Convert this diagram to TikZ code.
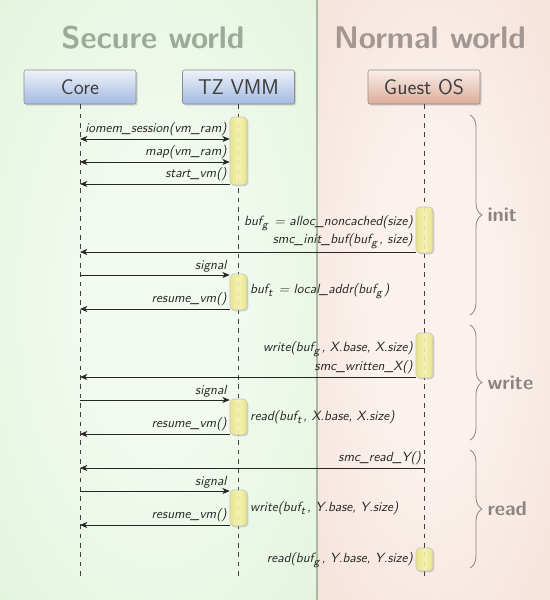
\documentclass[tikz,border=0pt]{standalone}
\usetikzlibrary{arrows.meta,shadows,fit,decorations.pathreplacing}

\definecolor{secout}{RGB}{219,241,211}
\definecolor{secin}{RGB}{242,250,239}
\definecolor{normout}{RGB}{242,217,206}
\definecolor{normin}{RGB}{251,242,238}
\definecolor{divline}{RGB}{168,186,162}
\definecolor{sectitle}{RGB}{156,170,151}
\definecolor{normtitle}{RGB}{162,151,146}
\definecolor{phasegray}{RGB}{140,132,128}
\definecolor{bluetop}{RGB}{238,242,249}
\definecolor{bluebot}{RGB}{163,186,226}
\definecolor{redtop}{RGB}{249,239,233}
\definecolor{redbot}{RGB}{221,172,152}
\definecolor{barfill}{RGB}{236,232,124}
\definecolor{barlight}{RGB}{250,248,178}

\pgfdeclareradialshading{secglow}{\pgfpoint{0bp}{0bp}}{color(0bp)=(secin); color(12bp)=(secin); color(50bp)=(secout)}
\pgfdeclareradialshading{normglow}{\pgfpoint{0bp}{0bp}}{color(0bp)=(normin); color(12bp)=(normin); color(50bp)=(normout)}

\newcommand{\sub}[1]{\raisebox{-0.45ex}{\fontsize{8.5}{9}\selectfont #1}\,}

\begin{document}
\begin{tikzpicture}[x=0.75pt, y=-0.75pt,
  >={Stealth[length=5.5pt, width=4.5pt, inset=1.6pt]},
  actor/.style={draw=black!45, rounded corners=1.5pt, minimum width=84pt, minimum height=25.5pt,
    font=\sffamily\fontsize{16}{18}\selectfont, text=black!75,
    drop shadow={opacity=0.3, shadow xshift=1.2pt, shadow yshift=-1.2pt}},
  secactor/.style={actor, top color=bluetop, bottom color=bluebot},
  normactor/.style={actor, top color=redtop, bottom color=redbot},
  life/.style={black!75, line width=0.5pt, dash pattern=on 3.5pt off 3.5pt},
  actbar/.style={draw=black!25, rounded corners=3pt, inner sep=0pt,
    left color=barfill, right color=barfill, middle color=barlight, fill opacity=0.85,
    drop shadow={opacity=0.3, shadow xshift=1pt, shadow yshift=-1pt}},
  msg/.style={black!85, line width=0.6pt},
  lbl/.style={font=\sffamily\itshape, text=black!85, inner sep=2pt},
  phase/.style={decorate, decoration={brace, amplitude=9pt}, phasegray, line width=0.6pt},
  phaselbl/.style={font=\sffamily\bfseries\fontsize{15}{18}\selectfont, text=phasegray},
  title/.style={font=\sffamily\bfseries\fontsize{23.5}{28}\selectfont}]
  \useasboundingbox (0,0) rectangle (550,600);

  % the two worlds
  \shade[shading=secglow] (0,0) rectangle (317,600);
  \shade[shading=normglow] (317,0) rectangle (550,600);
  \draw[divline, line width=1.2pt] (317,0) -- (317,600);
  \node[title, text=sectitle] (secname) at (153,38) {Secure world};
  \node[title, text=normtitle] (normname) at (430,38) {Normal world};

  % participants and lifelines
  \node[secactor] (core) at (80,87) {Core};
  \node[secactor] (vmm) at (238.5,87) {TZ VMM};
  \node[normactor] (guest) at (424,87) {Guest OS};
  \draw[life] (core) -- (core |- 0,577);
  \draw[life] (vmm) -- (vmm |- 0,577);
  \draw[life] (guest) -- (guest |- 0,577);

  % activations
  \node[actbar, fit={(230,117) (247,185)}] (b1) {};
  \node[actbar, fit={(416,207) (433,253)}] (b2) {};
  \node[actbar, fit={(230,274) (247,310)}] (b3) {};
  \node[actbar, fit={(416,333) (433,378)}] (b4) {};
  \node[actbar, fit={(230,399) (247,435)}] (b5) {};
  \node[actbar, fit={(230,490) (247,526)}] (b6) {};
  \node[actbar, fit={(416,548) (433,571)}] (b7) {};

  % init
  \draw[msg,<->] (core |- 0,139) -- (b1.west |- 0,139) node[lbl, above left] (iomem) {iomem\_session(vm\_ram)};
  \draw[msg,<->] (core |- 0,162) -- (b1.west |- 0,162) node[lbl, above left] (map) {map(vm\_ram)};
  \draw[msg,<-] (core |- 0,184) -- (b1.west |- 0,184) node[lbl, above left] (start) {start\_vm()};
  \node[lbl, anchor=east] (allocg) at (b2.west |- 0,223) {buf\sub{g} = alloc\_noncached(size)};
  \draw[msg,<-] (core |- 0,252) -- (b2.west |- 0,252) node[lbl, above left] (initbuf) {smc\_init\_buf(buf\sub{g}, size)};
  \draw[msg,->] (core |- 0,275) -- (b3.west |- 0,275) node[lbl, above left] (sig1) {signal};
  \node[lbl, anchor=west] (localt) at (b3.east |- 0,291) {buf\sub{t} = local\_addr(buf\sub{g})};
  \draw[msg,<-] (core |- 0,309) -- (b3.west |- 0,309) node[lbl, above left] (res1) {resume\_vm()};

  % write
  \node[lbl, anchor=east] (writeg) at (b4.west |- 0,349) {write(buf\sub{g}, X.base, X.size)};
  \draw[msg,<-] (core |- 0,377) -- (b4.west |- 0,377) node[lbl, above left] (written) {smc\_written\_X()};
  \draw[msg,->] (core |- 0,400) -- (b5.west |- 0,400) node[lbl, above left] (sig2) {signal};
  \node[lbl, anchor=west] (readt) at (b5.east |- 0,417) {read(buf\sub{t}, X.base, X.size)};
  \draw[msg,<-] (core |- 0,434) -- (b5.west |- 0,434) node[lbl, above left] (res2) {resume\_vm()};

  % read
  \draw[msg,<-] (core |- 0,468) -- (guest |- 0,468) node[lbl, above left] (readY) {smc\_read\_Y()};
  \draw[msg,->] (core |- 0,491) -- (b6.west |- 0,491) node[lbl, above left] (sig3) {signal};
  \node[lbl, anchor=west] (writet) at (b6.east |- 0,508) {write(buf\sub{t}, Y.base, Y.size)};
  \draw[msg,<-] (core |- 0,525) -- (b6.west |- 0,525) node[lbl, above left] (res3) {resume\_vm()};
  \node[lbl, anchor=east] (readg) at (b7.west |- 0,560) {read(buf\sub{g}, Y.base, Y.size)};

  % phases
  \draw[phase] (470,115) -- (470,315) node[midway, right=9.5pt, phaselbl] (initlbl) {init};
  \draw[phase] (470,325) -- (470,440) node[midway, right=9.5pt, phaselbl] (writelbl) {write};
  \draw[phase] (470,450) -- (470,568) node[midway, right=9.5pt, phaselbl] (readlbl) {read};
\end{tikzpicture}
\end{document}
